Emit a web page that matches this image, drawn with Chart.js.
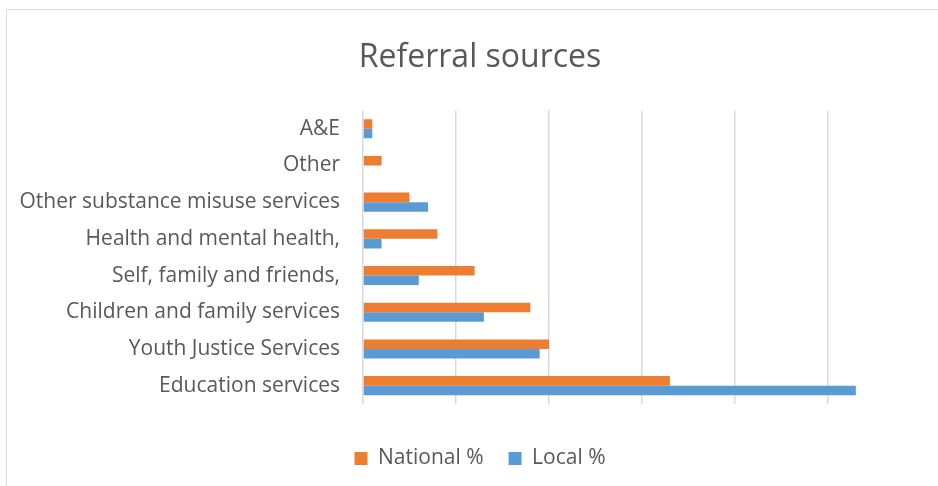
<!DOCTYPE html>
<html>
<head>
<meta charset="utf-8">
<script src="https://cdn.jsdelivr.net/npm/chart.js@4"></script>
<style>
  html, body { margin:0; padding:0; width:938px; height:486px; overflow:hidden; background:#fff; }
  #box { position:absolute; left:6px; top:9px; width:948px; height:492px; border:1px solid #d9d9d9; box-sizing:border-box; }
  #box canvas { display:block; }
</style>
</head>
<body>
<div id="box"><canvas id="c"></canvas></div>
<script>
const categories = ["A&E", "Other", "Other substance misuse services", "Health and mental health,", "Self, family and friends,", "Children and family services", "Youth Justice Services", "Education services"];
const nationalPct = [1, 2, 5, 8, 12, 18, 20, 33];
const localPct = [1, 0, 7, 2, 6, 13, 19, 53];
const seriesNames = ["National %", "Local %"];
const titleText = "Referral sources";
const gridStep = 10;

const FONT = "'Open Sans', sans-serif";
const TXT = "#595959";

new Chart(document.getElementById('c'), {
  type: 'bar',
  data: {
    labels: categories,
    datasets: [
      { label: seriesNames[0], data: nationalPct, backgroundColor: '#ED7D31', categoryPercentage: 0.52, barPercentage: 1.0 },
      { label: seriesNames[1], data: localPct, backgroundColor: '#5B9BD5', categoryPercentage: 0.52, barPercentage: 1.0 }
    ]
  },
  options: {
    indexAxis: 'y',
    responsive: true,
    maintainAspectRatio: false,
    animation: false,
    layout: { padding: { left: 0, right: 0, top: 0, bottom: 21 } },
    plugins: {
      title: {
        display: true, text: titleText, color: TXT,
        font: { family: FONT, size: 32, weight: 'normal' },
        padding: { top: 29, bottom: 33 }
      },
      legend: {
        position: 'bottom',
        labels: {
          color: TXT, boxWidth: 13, boxHeight: 13, padding: 25,
          font: { family: FONT, size: 21 }
        }
      },
      tooltip: { enabled: false }
    },
    scales: {
      x: {
        min: 0, max: 63.45,
        ticks: { display: false, stepSize: gridStep },
        afterBuildTicks: (s) => { s.ticks = s.ticks.filter(t => Math.abs(t.value % gridStep) < 1e-6); },
        grid: { color: '#d9d9d9', lineWidth: 1.5, drawTicks: false },
        border: { display: false },
        afterFit: (s) => { s.height = 19; }
      },
      y: {
        grid: { display: false, drawTicks: false },
        border: { display: false },
        ticks: { color: TXT, padding: 23, font: { family: FONT, size: 21 } },
        afterFit: (s) => { s.width = 356; }
      }
    }
  }
});
</script>
</body>
</html>
